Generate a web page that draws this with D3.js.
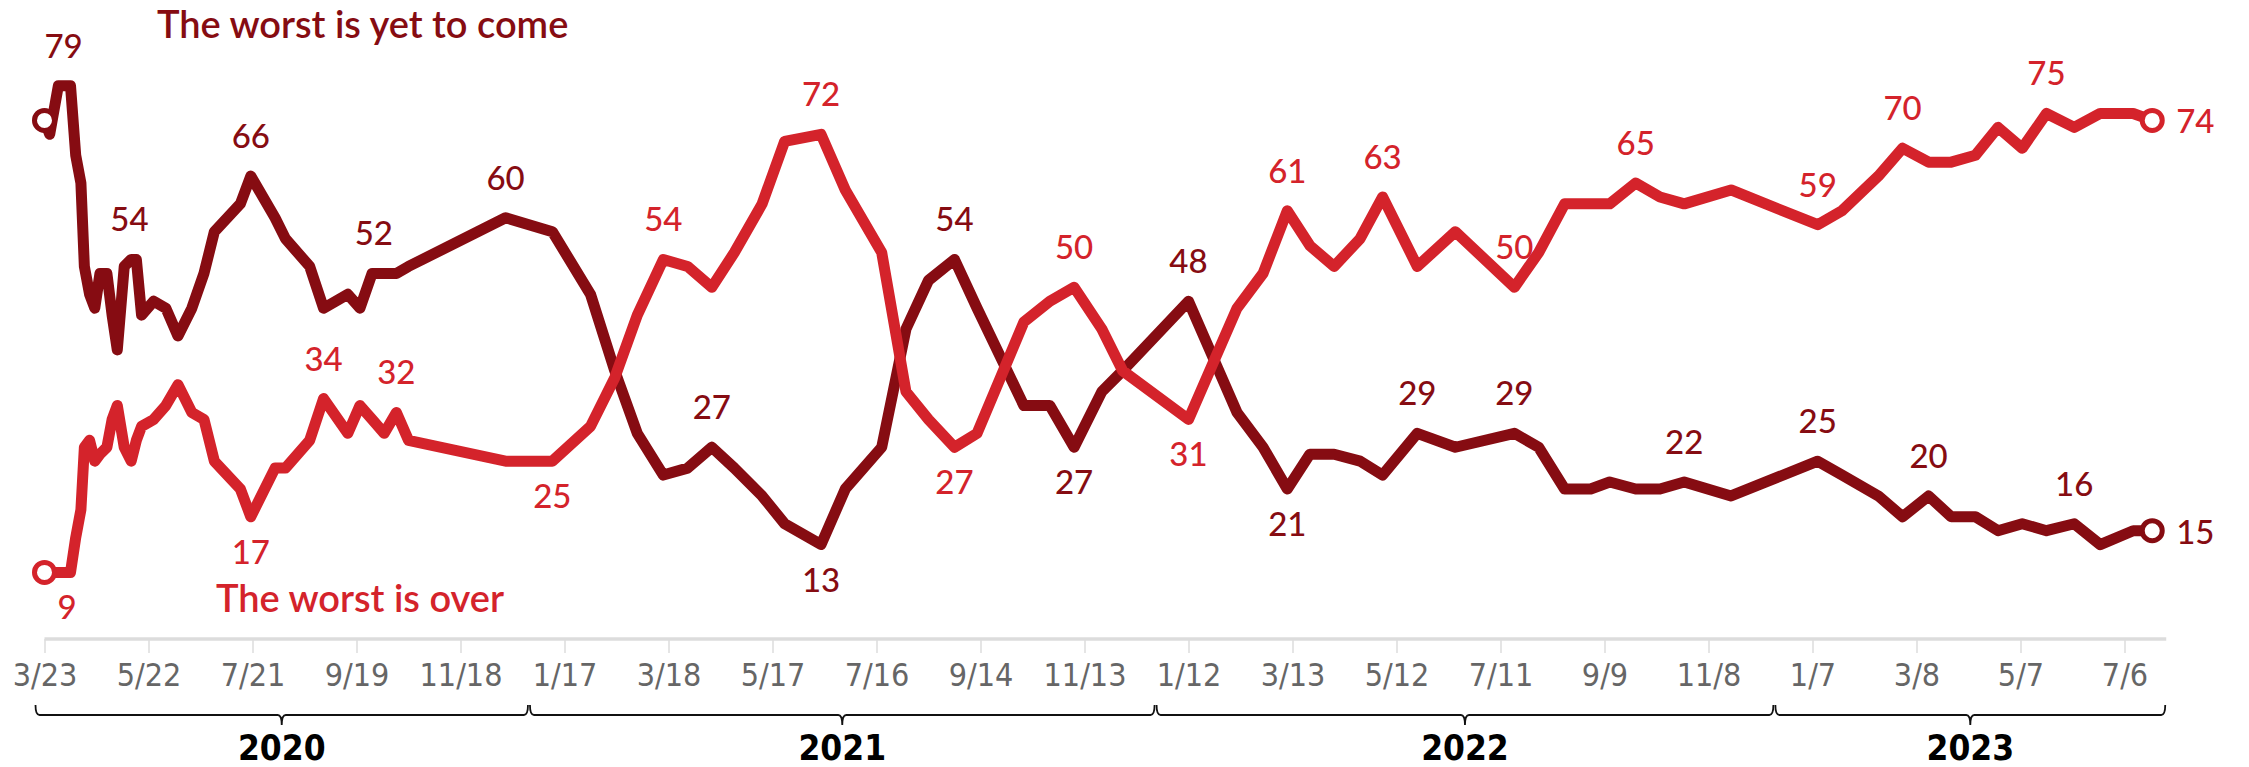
<!DOCTYPE html>
<html><head><meta charset="utf-8">
<script src="https://cdn.jsdelivr.net/npm/d3@7"></script>
<style>
html,body{margin:0;padding:0;background:#fff;}
svg{display:block;}
.lbl{font-family:Lato,"Open Sans",sans-serif;font-weight:500;font-size:33px;}
.ttl{font-family:Lato,"Open Sans",sans-serif;font-weight:600;font-size:38px;}
.tk{font-family:"DejaVu Sans Condensed","DejaVu Sans",sans-serif;font-stretch:condensed;font-size:32px;fill:#666;}
.yr{font-family:"DejaVu Sans Condensed","DejaVu Sans",sans-serif;font-stretch:condensed;font-weight:bold;font-size:35px;fill:#000;}
</style></head><body>
<svg id="c" width="2249" height="767"></svg>
<script>
// ---- data ----
const dates = [
"2020-03-23","2020-03-26","2020-03-31","2020-04-07","2020-04-10","2020-04-13","2020-04-15","2020-04-18","2020-04-21","2020-04-24",
"2020-04-28","2020-05-01","2020-05-04","2020-05-08","2020-05-12","2020-05-15","2020-05-18","2020-05-25","2020-06-01","2020-06-08",
"2020-06-16","2020-06-23","2020-06-29","2020-07-14","2020-07-20","2020-08-03","2020-08-09","2020-08-23","2020-08-31","2020-09-14",
"2020-09-21","2020-09-28","2020-10-05","2020-10-12","2020-10-19","2020-12-14",
"2021-01-10","2021-02-01","2021-02-15","2021-02-28","2021-03-15","2021-03-29","2021-04-12","2021-04-25","2021-05-11","2021-05-24",
"2021-06-14","2021-06-28","2021-07-19","2021-08-02","2021-08-15","2021-08-30","2021-09-12","2021-10-09","2021-10-24","2021-11-07",
"2021-11-23","2021-12-05",
"2022-01-12","2022-01-26","2022-02-09","2022-02-24","2022-03-10","2022-03-23","2022-04-06","2022-04-21","2022-05-04","2022-05-24",
"2022-06-15","2022-07-19","2022-08-02","2022-08-17","2022-09-01","2022-09-12","2022-09-27","2022-10-11","2022-10-25","2022-11-21",
"2023-01-10","2023-01-24","2023-02-14","2023-02-28","2023-03-15","2023-03-28","2023-04-11","2023-04-24","2023-05-08","2023-05-22",
"2023-06-07","2023-06-22","2023-07-11","2023-07-22"
];
const worstYetToCome = [
74,72,79,79,69,65,53,49,47,52,52,46,41,53,54,54,46,48,47,43,
47,52,58,62,66,60,57,53,47,49,47,52,52,52,53,60,
58,49,38,29,23,24,27,24,20,16,13,21,27,44,51,54,47,33,33,27,35,38,
48,40,32,27,21,26,26,25,23,29,27,29,27,21,21,22,21,21,22,20,
25,23,20,17,20,17,17,15,16,15,16,13,15,15
];
const worstIsOver = [
9,9,9,9,14,18,27,28,25,26,27,31,33,27,25,28,30,31,33,36,
32,31,25,21,17,24,24,28,34,29,33,31,29,32,28,25,
25,30,37,46,54,53,50,55,62,71,72,64,55,35,31,27,29,45,48,50,44,38,
31,39,47,52,61,56,53,57,63,53,58,50,55,62,62,62,65,63,62,64,
59,61,66,70,68,68,69,73,70,75,73,75,75,74
];
const seriesNames = ["The worst is yet to come","The worst is over"];
// labelled values: [date, value, side]
const darkLabels = [
["2020-04-03",79,"above"],["2020-05-11",54,"above"],["2020-07-20",66,"above"],["2020-09-29",52,"above"],
["2020-12-14",60,"above"],["2021-04-12",27,"above"],["2021-06-14",13,"below"],["2021-08-30",54,"above"],
["2021-11-07",27,"below"],["2022-01-12",48,"above"],["2022-03-10",21,"below"],["2022-05-24",29,"above"],
["2022-07-19",29,"above"],["2022-10-25",22,"above"],["2023-01-10",25,"above"],["2023-03-15",20,"above"],
["2023-06-07",16,"above"]
];
const redLabels = [
["2020-04-05",9,"below"],["2020-07-20",17,"below"],["2020-08-31",34,"above"],["2020-10-12",32,"above"],
["2021-01-10",25,"below"],["2021-03-15",54,"above"],["2021-06-14",72,"above"],["2021-08-30",27,"below"],
["2021-11-07",50,"above"],["2022-01-12",31,"below"],["2022-03-10",61,"above"],["2022-05-04",63,"above"],
["2022-07-19",50,"above"],["2022-09-27",65,"above"],["2023-01-10",59,"above"],["2023-02-28",70,"above"],
["2023-05-22",75,"above"]
];
const tickDates = ["2020-03-23","2020-05-22","2020-07-21","2020-09-19","2020-11-18","2021-01-17","2021-03-18",
"2021-05-17","2021-07-16","2021-09-14","2021-11-13","2022-01-12","2022-03-13","2022-05-12","2022-07-11",
"2022-09-09","2022-11-08","2023-01-07","2023-03-08","2023-05-07","2023-07-06"];
const years = ["2020","2021","2022","2023"];

// ---- chart ----
const DARK = "#860c12", RED = "#d4232b";
const parse = d3.utcParse("%Y-%m-%d");
const svg = d3.select("#c");
const x = d3.scaleUtc().domain([parse("2020-03-23"), parse("2023-07-06")]).range([44.5, 2124.5]);
const y = d3.scaleLinear().domain([0, 80]).range([635, 78.7]);

const dark = dates.map((d,i)=>({date:parse(d), v:worstYetToCome[i]}));
const red = dates.map((d,i)=>({date:parse(d), v:worstIsOver[i]}));
const first = dark[0].date, last = dark[dark.length-1].date;

// axis
const axisY = 639;
svg.append("line").attr("x1", x(first)).attr("x2", x(last)+14).attr("y1", axisY).attr("y2", axisY)
  .attr("stroke", "#dcdcdc").attr("stroke-width", 3.5);
const ax = svg.append("g").attr("transform", `translate(0,${axisY})`)
  .call(d3.axisBottom(x).tickValues(tickDates.map(parse)).tickFormat(d3.utcFormat("%-m/%-d")).tickSize(14));
ax.select(".domain").remove();
ax.selectAll(".tick line").attr("stroke", "#dcdcdc").attr("stroke-width", 1.5);
ax.selectAll(".tick text").attr("class", "tk").attr("y", 47).attr("dy", 0).attr("fill", null);

// year brackets
const bounds = [x(first) - 10];
for (let k = 0; k < years.length - 1; k++) {
  const yrPts = dark.filter(d => d.date.getUTCFullYear() === +years[k]);
  const nxt = dark.filter(d => d.date.getUTCFullYear() === +years[k+1]);
  bounds.push((x(yrPts[yrPts.length-1].date) + x(nxt[0].date)) / 2);
}
bounds.push(x(last) + 14);
const by = 715;
years.forEach((yr, k) => {
  const x0 = bounds[k] + 1, x1 = bounds[k+1] - 1, cx = (bounds[k] + bounds[k+1]) / 2;
  const p = `M${x0},${by-10} Q${x0},${by} ${x0+4},${by} L${cx-4},${by} Q${cx},${by} ${cx},${by+10} Q${cx},${by} ${cx+4},${by} L${x1-4},${by} Q${x1},${by} ${x1},${by-10}`;
  svg.append("path").attr("d", p).attr("fill", "none").attr("stroke", "#111").attr("stroke-width", 1.8);
  svg.append("text").attr("class", "yr").attr("x", cx).attr("y", 760).attr("text-anchor", "middle").text(yr);
});

// lines
const line = d3.line().x(d => x(d.date)).y(d => y(d.v));
[[dark, DARK], [red, RED]].forEach(([s, c]) => {
  svg.append("path").datum(s).attr("d", line).attr("fill", "none").attr("stroke", c)
    .attr("stroke-width", 11).attr("stroke-linejoin", "round").attr("stroke-linecap", "round");
});
[[dark, DARK], [red, RED]].forEach(([s, c]) => {
  [s[0], s[s.length-1]].forEach(d => {
    svg.append("circle").attr("cx", x(d.date)).attr("cy", y(d.v)).attr("r", 10)
      .attr("fill", "#fff").attr("stroke", c).attr("stroke-width", 5);
  });
});

// value labels
function drawLabels(arr, c) {
  arr.forEach(([d, v, side]) => {
    svg.append("text").attr("class", "lbl").attr("fill", c).attr("text-anchor", "middle")
      .attr("x", x(parse(d))).attr("y", side === "above" ? y(v) - 28 : y(v) + 47).text(v);
  });
}
drawLabels(darkLabels, DARK);
drawLabels(redLabels, RED);
// end labels
[[dark, DARK], [red, RED]].forEach(([s, c]) => {
  const d = s[s.length-1];
  svg.append("text").attr("class", "lbl").attr("fill", c).attr("x", x(d.date) + 24).attr("y", y(d.v))
    .attr("dominant-baseline", "central").text(d.v);
});

// series titles
svg.append("text").attr("class", "ttl").attr("fill", DARK).attr("x", 157).attr("y", 38).text(seriesNames[0]);
svg.append("text").attr("class", "ttl").attr("fill", RED).attr("x", 216).attr("y", 612).text(seriesNames[1]);
</script>
</body></html>
